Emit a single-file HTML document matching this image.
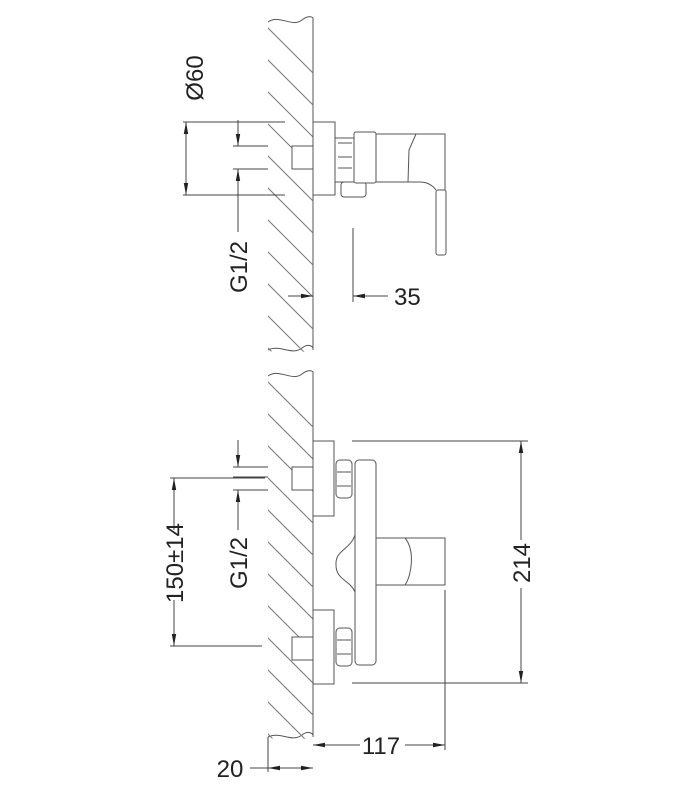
<!DOCTYPE html>
<html><head><style>html,body{margin:0;padding:0;background:#fff}svg{display:block}text{font-family:"Liberation Sans",sans-serif;font-size:24px;fill:#222}</style></head><body>
<svg width="695" height="799" viewBox="0 0 695 799" xmlns="http://www.w3.org/2000/svg">
<defs>
<marker id="a" markerWidth="12" markerHeight="6" refX="12" refY="3" orient="auto" markerUnits="userSpaceOnUse"><path d="M0,0.8 L12,3 L0,5.2z" fill="#222"/></marker>
<clipPath id="w1"><path d="M268,20 C280,14 290,26 300,20 C306,16 310,16 313,18 L313,350 C300,356 290,344 280,350 C275,352 270,352 268,350Z"/></clipPath>
<clipPath id="w2"><path d="M268,374 C280,368 290,380 300,374 C306,370 310,370 313,372 L313,737 C300,743 290,731 280,737 C275,739 270,739 268,737Z"/></clipPath>
</defs>
<g stroke="#555" stroke-width="1" fill="none">
<path d="M268,22 C280,14 292,28 302,20 C307,16 311,16 313,18 L313,350"/>
<path d="M268,350 C280,344 292,356 302,348 C307,344 311,345 313,348"/>
<g clip-path="url(#w1)" stroke="#777">
<path d="M230,-10 l120,120 M230,22 l120,120 M230,54 l120,120 M230,86 l120,120 M230,118 l120,120 M230,150 l120,120 M230,182 l120,120 M230,214 l120,120 M230,246 l120,120 M230,278 l120,120 M230,310 l120,120"/>
</g>
<path d="M268,376 C280,368 292,382 302,374 C307,370 311,370 313,372 L313,737"/>
<path d="M268,737 C280,731 292,743 302,735 C307,731 311,732 313,735"/>
<g clip-path="url(#w2)" stroke="#777">
<path d="M230,344 l120,120 M230,376 l120,120 M230,408 l120,120 M230,440 l120,120 M230,472 l120,120 M230,504 l120,120 M230,536 l120,120 M230,568 l120,120 M230,600 l120,120 M230,632 l120,120 M230,664 l120,120 M230,696 l120,120"/>
</g>
<rect x="313" y="122" width="22" height="73" fill="#fff"/>
<rect x="292" y="146" width="21" height="23" fill="#fff"/>
<rect x="335" y="138" width="19" height="44" fill="#fff"/>
<path d="M338,143 h14 M338,157 h14 M338,168 h14"/>
<rect x="341" y="182" width="25" height="15" rx="3" fill="#fff"/>
<rect x="354" y="132" width="22" height="51" rx="2" fill="#fff"/>
<path d="M376,134 H408 L412,134 H445 V190 M376,182 H420 Q430,182 436,190 M408,134 L416,134 L409,150 L408,182"/>
<rect x="436" y="190" width="10" height="65" rx="2" fill="#fff"/>
<rect x="313" y="441" width="21" height="75" fill="#fff"/>
<rect x="313" y="610" width="21" height="74" fill="#fff"/>
<rect x="292" y="467" width="21" height="23" fill="#fff"/>
<rect x="292" y="637" width="21" height="23" fill="#fff"/>
<rect x="336" y="460" width="16" height="38" rx="4" fill="#fff"/>
<path d="M337,472 h14 M337,486 h14"/>
<rect x="336" y="628" width="16" height="38" rx="4" fill="#fff"/>
<path d="M337,640 h14 M337,654 h14"/>
<rect x="355" y="460" width="21" height="205" rx="4" fill="#fff"/>
<path d="M355,535 C350,550 335,550 336,565 C336,580 350,580 355,592"/>
<path d="M376,538 H445 V585 H376 M405,538 C415,550 412,575 405,585"/>
</g>
<g stroke="#444" stroke-width="1" fill="none">
<path d="M183,122 H285 M183,195 H285"/>
<path d="M186,150 V122" marker-end="url(#a)"/><path d="M186,165 V195" marker-end="url(#a)"/>
<path d="M186,150 V165"/>
<path d="M233,146 H268 M233,169 H268"/>
<path d="M238,120 V146" marker-end="url(#a)"/><path d="M238,232 V169" marker-end="url(#a)"/>
<path d="M353,228 V302"/>
<path d="M288,296 H313" marker-end="url(#a)"/><path d="M388,296 H353" marker-end="url(#a)"/>
<path d="M352,441 H528 M352,683 H528"/>
<path d="M521,540 V441" marker-end="url(#a)"/><path d="M521,588 V683" marker-end="url(#a)"/>
<path d="M445,590 V750"/>
<path d="M360,745 H313" marker-end="url(#a)"/><path d="M405,745 H445" marker-end="url(#a)"/>
<path d="M268,737 V772"/>
<path d="M250,768 H268"/><path d="M290,768 H313" marker-end="url(#a)"/><path d="M290,768 H268" marker-end="url(#a)"/>
<path d="M170,478 H265 M170,646 H262"/>
<path d="M174,530 V478" marker-end="url(#a)"/><path d="M174,600 V646" marker-end="url(#a)"/>
<path d="M233,467 H268 M233,477 H268 M233,490 H268"/>
<path d="M238,440 V467" marker-end="url(#a)"/><path d="M238,530 V490" marker-end="url(#a)"/>
</g>
<g>
<text transform="translate(203,78) rotate(-90)" text-anchor="middle">Ø60</text>
<text transform="translate(247,267) rotate(-90)" text-anchor="middle">G1/2</text>
<text x="394" y="305">35</text>
<text transform="translate(530,563) rotate(-90)" text-anchor="middle">214</text>
<text x="381" y="754" text-anchor="middle">117</text>
<text x="230" y="777" text-anchor="middle">20</text>
<text transform="translate(183,563) rotate(-90)" text-anchor="middle">150±14</text>
<text transform="translate(247,563) rotate(-90)" text-anchor="middle">G1/2</text>
</g>
</svg>
</body></html>
